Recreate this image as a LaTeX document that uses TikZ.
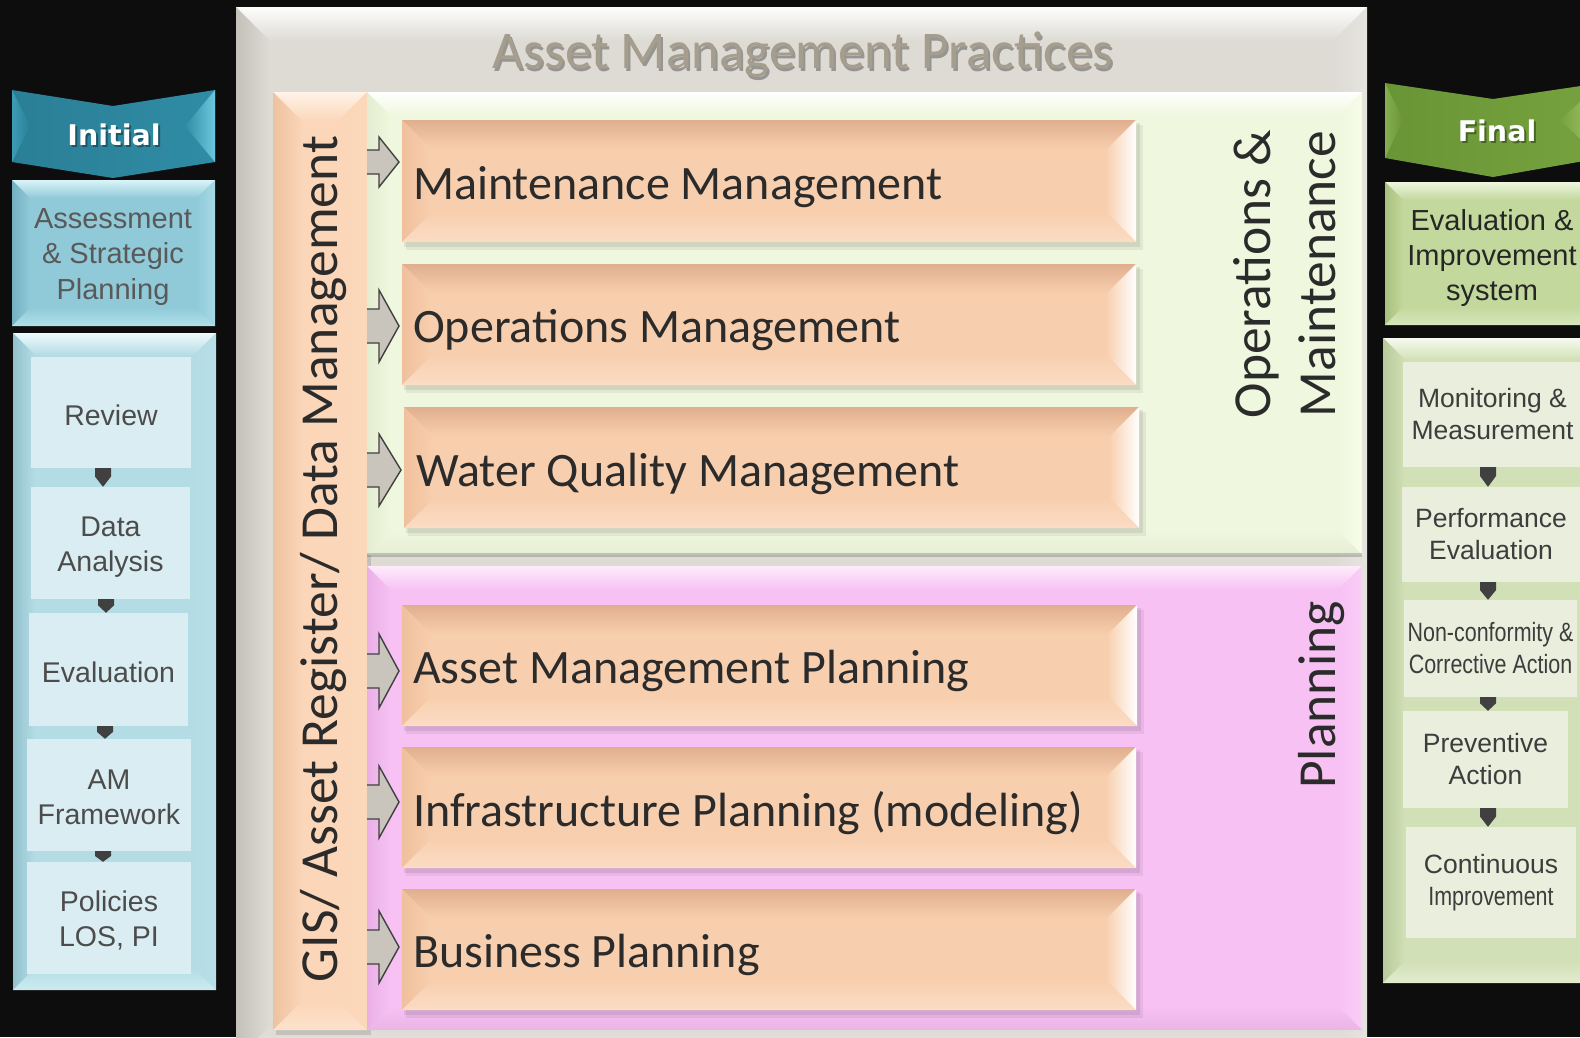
\documentclass[tikz,border=0pt]{standalone}
\usepackage{fontspec}
\setmainfont{Carlito}
\newfontfamily\arialf{Liberation Sans}
\newfontfamily\narrowf[FakeStretch=0.81]{Liberation Sans}
\newfontfamily\dvsf{DejaVu Sans}
\usetikzlibrary{calc}
\definecolor{bgc}{HTML}{0D0D0D}
% main gray panel
\definecolor{grbase}{HTML}{DEDBD5}\definecolor{grtop}{HTML}{FDFDFC}\definecolor{grleft}{HTML}{C4C1BB}\definecolor{grright}{HTML}{E6E4DF}\definecolor{grbot}{HTML}{E6E4DF}
% GIS bar
\definecolor{pgbase}{HTML}{FBD6B8}\definecolor{pgtop}{HTML}{FFF3E9}\definecolor{pgleft}{HTML}{EEC2A0}\definecolor{pgright}{HTML}{FCD8BB}\definecolor{pgbot}{HTML}{FDE2CC}
% O&M green
\definecolor{gnbase}{HTML}{EFF7DE}\definecolor{gntop}{HTML}{FFFFFF}\definecolor{gnleft}{HTML}{E4EDD0}\definecolor{gnright}{HTML}{F7FCE8}\definecolor{gnbot}{HTML}{E6EDD6}
% planning pink
\definecolor{pkbase}{HTML}{F7C1F4}\definecolor{pktop}{HTML}{FDEBFC}\definecolor{pkleft}{HTML}{EAB0E6}\definecolor{pkright}{HTML}{FBCDF8}\definecolor{pkbot}{HTML}{E9B5E5}
% peach boxes
\definecolor{pcbase}{HTML}{F8CFAE}\definecolor{pctop}{HTML}{E0AF90}\definecolor{pcleft}{HTML}{F0C09E}\definecolor{pcright}{HTML}{FFFFFF}\definecolor{pcbot}{HTML}{FBDCC5}
% assessment teal
\definecolor{tqbase}{HTML}{90CAD9}\definecolor{tqtop}{HTML}{DAF4F9}\definecolor{tqleft}{HTML}{74B0C0}\definecolor{tqright}{HTML}{A9DAE5}\definecolor{tqbot}{HTML}{B2E1EA}
% left column
\definecolor{lbbase}{HTML}{B4DCE5}\definecolor{lbtop}{HTML}{EFFAFC}\definecolor{lbleft}{HTML}{92C2CE}\definecolor{lbright}{HTML}{B9DFE8}\definecolor{lbbot}{HTML}{CDEBF1}
% eval green
\definecolor{lgbase}{HTML}{C3D89C}\definecolor{lgtop}{HTML}{EEF6DE}\definecolor{lgleft}{HTML}{A8C07E}\definecolor{lgright}{HTML}{D3E3B5}\definecolor{lgbot}{HTML}{D7E6BC}
% right column
\definecolor{rgbase}{HTML}{D1E0B6}\definecolor{rgtop}{HTML}{F6FAEE}\definecolor{rgleft}{HTML}{B8CB9A}\definecolor{rgright}{HTML}{D6E4BD}\definecolor{rgbot}{HTML}{E2ECD0}
\definecolor{innerL}{HTML}{DAEDF2}
\definecolor{innerR}{HTML}{E9EEDD}
\definecolor{tabc}{HTML}{404040}
\definecolor{txtd}{HTML}{2B2B2B}
\definecolor{titlec}{HTML}{A59D8D}
\definecolor{arrf}{HTML}{C9C5BD}
\definecolor{ichA}{HTML}{2A7F96}\definecolor{ichB}{HTML}{2F8CA5}\definecolor{ichC}{HTML}{6CC8DE}\definecolor{ichD}{HTML}{3C9CB4}
\definecolor{fchA}{HTML}{6A9536}\definecolor{fchB}{HTML}{76A23E}\definecolor{fchC}{HTML}{A6CC70}\definecolor{fchD}{HTML}{86AE52}

% bevelled box: #1 name, #2 x1, #3 y1, #4 x2, #5 y2, #6 depth, #7 colour prefix
\newcommand{\bbox}[7]{%
  \fill[#7base] (#2,#3) rectangle (#4,#5);
  \shade[top color=#7top, bottom color=#7base] (#2,#3) -- (#4,#3) -- (#4-#6,#3+#6) -- (#2+#6,#3+#6) -- cycle;
  \shade[left color=#7left, right color=#7base] (#2,#3) -- (#2+#6,#3+#6) -- (#2+#6,#5-#6) -- (#2,#5) -- cycle;
  \shade[left color=#7base, right color=#7right] (#4,#3) -- (#4-#6,#3+#6) -- (#4-#6,#5-#6) -- (#4,#5) -- cycle;
  \shade[top color=#7base, bottom color=#7bot] (#2,#5) -- (#2+#6,#5-#6) -- (#4-#6,#5-#6) -- (#4,#5) -- cycle;
  \node[inner sep=0pt, outer sep=0pt, minimum width={(#4-#2)*1pt}, minimum height={(#5-#3)*1pt}] (#1) at ({(#2+#4)/2},{(#3+#5)/2}) {};
}
% connector tab between two stacked nodes at x = #3
\newcommand{\tabconn}[3]{%
  \fill[tabc] let \p1=(#1.south), \p2=(#2.north) in
    ({(#3-8)*1pt},\y1) -- ({(#3+8)*1pt},\y1) -- ({(#3+8)*1pt},{\y1+0.45*(\y2-\y1)}) -- ({#3*1pt},\y2) -- ({(#3-8)*1pt},{\y1+0.45*(\y2-\y1)}) -- cycle;
}
% block arrow from GIS bar to a box: #1 target, #2 centre y, #3 shaft half, #4 head half
\newcommand{\blockarrow}[4]{%
  \coordinate (ay-#1) at (0,#2);
  \fill[arrf] let \p1=(gis.east |- ay-#1), \p2=(#1.west) in
    (\x1,{\y1+#3*1pt}) -- ({\x1+12pt},{\y1+#3*1pt}) -- ({\x1+12pt},{\y1+#4*1pt}) -- ({\x2-3pt},\y1) -- ({\x1+12pt},{\y1-#4*1pt}) -- ({\x1+12pt},{\y1-#3*1pt}) -- (\x1,{\y1-#3*1pt}) -- cycle;
  \draw[line width=1.4pt, tabc, line join=miter] let \p1=(gis.east |- ay-#1), \p2=(#1.west) in
    (\x1,{\y1+#3*1pt}) -- ({\x1+12pt},{\y1+#3*1pt}) -- ({\x1+12pt},{\y1+#4*1pt}) -- ({\x2-3pt},\y1) -- ({\x1+12pt},{\y1-#4*1pt}) -- ({\x1+12pt},{\y1-#3*1pt}) -- (\x1,{\y1-#3*1pt});
}
\newcommand{\pshadow}[4]{\fill[black, opacity=0.08] (#1+2,#2+3) rectangle (#3+4,#4+5);\fill[black, opacity=0.06] (#1+4,#2+5) rectangle (#3+7,#4+8);}

\tikzset{
  boxtext/.style={anchor=west, inner sep=0pt, text=txtd, font=\fontsize{48}{56}\selectfont},
  bigtext/.style={inner sep=0pt, text=txtd, align=center, font=\fontsize{53.5}{65}\selectfont},
  lbox/.style={fill=innerL, inner sep=0pt},
  ltext/.style={inner sep=0pt, align=center, text=black!70, font=\arialf\fontsize{28.5}{35}\selectfont},
  rbox/.style={fill=innerR, inner sep=0pt, align=center, text=black!76, font=\arialf\fontsize{26.5}{32}\selectfont},
  headtext/.style={inner sep=0pt, text=white, font=\dvsf\bfseries\fontsize{28.5}{32}\selectfont},
}

\begin{document}
\begin{tikzpicture}[x=1pt,y=-1pt]
\useasboundingbox (0,0) rectangle (1580,1037);
\clip (0,0) rectangle (1580,1037);
\fill[bgc] (0,0) rectangle (1580,1037);

% ---------- main panel ----------
\bbox{main}{236}{7}{1367}{1060}{34}{gr}
\node[inner sep=0pt, text=black!75, opacity=0.45, font=\fontsize{53}{60}\selectfont] (titlesh) at (805,58) {Asset Management Practices};
\node[inner sep=0pt, text=titlec, font=\fontsize{53}{60}\selectfont] (title) at (803,55) {Asset Management Practices};

% GIS bar
\fill[black, opacity=0.12] (276,95) rectangle (371,1035);
\bbox{gis}{273}{92}{367}{1030}{30}{pg}
\node[bigtext, rotate=90] (gistext) at (324,559) {GIS/ Asset Register/ Data Management};

% O&M and Planning panels
\bbox{om}{367}{92}{1362}{555}{24}{gn}
\fill[black, opacity=0.18] (367,553) rectangle (1362,557);
\bbox{pl}{367}{566}{1362}{1030}{24}{pk}
\node[bigtext, rotate=90] (omtext) at (1285,274) {Operations \&\\Maintenance};
\node[bigtext, rotate=90] (pltext) at (1322,695) {Planning};

% peach boxes
\pshadow{402}{120}{1136}{242}\bbox{mm}{402}{120}{1136}{242}{30}{pc}
\pshadow{402}{264}{1136}{385}\bbox{opm}{402}{264}{1136}{385}{30}{pc}
\pshadow{404}{407}{1139}{528}\bbox{wqm}{404}{407}{1139}{528}{30}{pc}
\pshadow{402}{605}{1137}{726}\bbox{amp}{402}{605}{1137}{726}{30}{pc}
\pshadow{402}{747}{1136}{868}\bbox{ipm}{402}{747}{1136}{868}{30}{pc}
\pshadow{402}{889}{1136}{1010}\bbox{bpm}{402}{889}{1136}{1010}{30}{pc}
\node[boxtext] (mmt) at (413,187) {Maintenance Management};
\node[boxtext] (opmt) at (413,330) {Operations Management};
\node[boxtext] (wqmt) at (416,474) {Water Quality Management};
\node[boxtext] (ampt) at (413,671) {Asset Management Planning};
\node[boxtext] (ipmt) at (413,813) {Infrastructure Planning (modeling)};
\node[boxtext] (bpmt) at (413,955) {Business Planning};

% block arrows
\blockarrow{mm}{162}{12}{25}
\blockarrow{opm}{326}{17}{36}
\blockarrow{wqm}{470}{17}{36}
\blockarrow{amp}{671}{17}{37}
\blockarrow{ipm}{802}{17}{36}
\blockarrow{bpm}{947}{17}{36}

% ---------- left side ----------
\shade[left color=ichA, right color=ichB] (12,90) -- (113,106) -- (215,90) -- (215,162) -- (113,178) -- (12,162) -- cycle;
\shade[left color=ichB, right color=ichC] (215,90) -- (215,162) -- (185,126) -- cycle;
\shade[left color=ichD, right color=ichA] (12,90) -- (12,162) -- (30,126) -- cycle;
\node[headtext, text=black, opacity=0.35] (initsh) at (116,137) {Initial};
\node[headtext] (init) at (114,135) {Initial};

\bbox{asp}{12}{180}{215}{326}{18}{tq}
\node[inner sep=0pt, align=center, text=black!65, font=\arialf\fontsize{29}{35.5}\selectfont] (aspt) at (113,257) {Assessment\\\& Strategic\\Planning};

\bbox{lcol}{13}{333}{216}{990}{22}{lb}
\node[lbox, minimum width=160, minimum height=111] (rev) at (111,412.5) {};
\node[lbox, minimum width=159, minimum height=112] (da) at (110.5,543) {};
\node[lbox, minimum width=159, minimum height=113] (ev) at (108.5,669.5) {};
\node[lbox, minimum width=164, minimum height=112] (amf) at (109,795) {};
\node[lbox, minimum width=164, minimum height=112] (pol) at (109,918) {};
\node[ltext] (revt) at ($(rev.center)+(0,3)$) {Review};
\node[ltext] (dat) at ($(da.center)+(0,4)$) {Data\\Analysis};
\node[ltext] (evt) at ($(ev.center)+(0,2.5)$) {Evaluation};
\node[ltext] (amft) at ($(amf.center)+(0,2)$) {AM\\Framework};
\node[ltext] (polt) at ($(pol.center)+(0,2.5)$) {Policies\\LOS, PI};
\tabconn{rev}{da}{103}
\tabconn{da}{ev}{106}
\tabconn{ev}{amf}{105}
\tabconn{amf}{pol}{103}

% ---------- right side ----------
\shade[left color=fchA, right color=fchB] (1385,83) -- (1493,99) -- (1601,83) -- (1601,158) -- (1493,177) -- (1385,158) -- cycle;
\shade[left color=fchB, right color=fchC] (1601,83) -- (1601,158) -- (1560,120) -- cycle;
\shade[left color=fchD, right color=fchA] (1385,83) -- (1385,158) -- (1403,120) -- cycle;
\node[headtext, text=black, opacity=0.35] (finsh) at (1499,133) {Final};
\node[headtext] (fin) at (1497,131) {Final};

\bbox{eis}{1385}{182}{1605}{325}{18}{lg}
\node[inner sep=0pt, align=center, text=black!85, font=\arialf\fontsize{29}{35}\selectfont] (eist) at (1492,258) {Evaluation \&\\Improvement\\system};

\bbox{rcol}{1383}{338}{1605}{983}{22}{rg}
\node[rbox, minimum width=179, minimum height=105] (mon) at (1492.5,414.5) {Monitoring \&\\Measurement};
\node[rbox, minimum width=178, minimum height=95] (perf) at (1491,534.5) {Performance\\Evaluation};
\node[rbox, minimum width=173, minimum height=97, font=\narrowf\fontsize{26.5}{32}\selectfont] (nc) at (1490.5,648.5) {Non-conformity \&\\Corrective Action};
\node[rbox, minimum width=165, minimum height=97] (prev) at (1485.5,759.5) {Preventive\\Action};
\node[rbox, minimum width=170, minimum height=111] (ci) at (1491,882.5) {Continuous\\{\narrowf Improvement}};
\tabconn{mon}{perf}{1488}
\tabconn{perf}{nc}{1488}
\tabconn{nc}{prev}{1488}
\tabconn{prev}{ci}{1488}
\end{tikzpicture}
\end{document}
